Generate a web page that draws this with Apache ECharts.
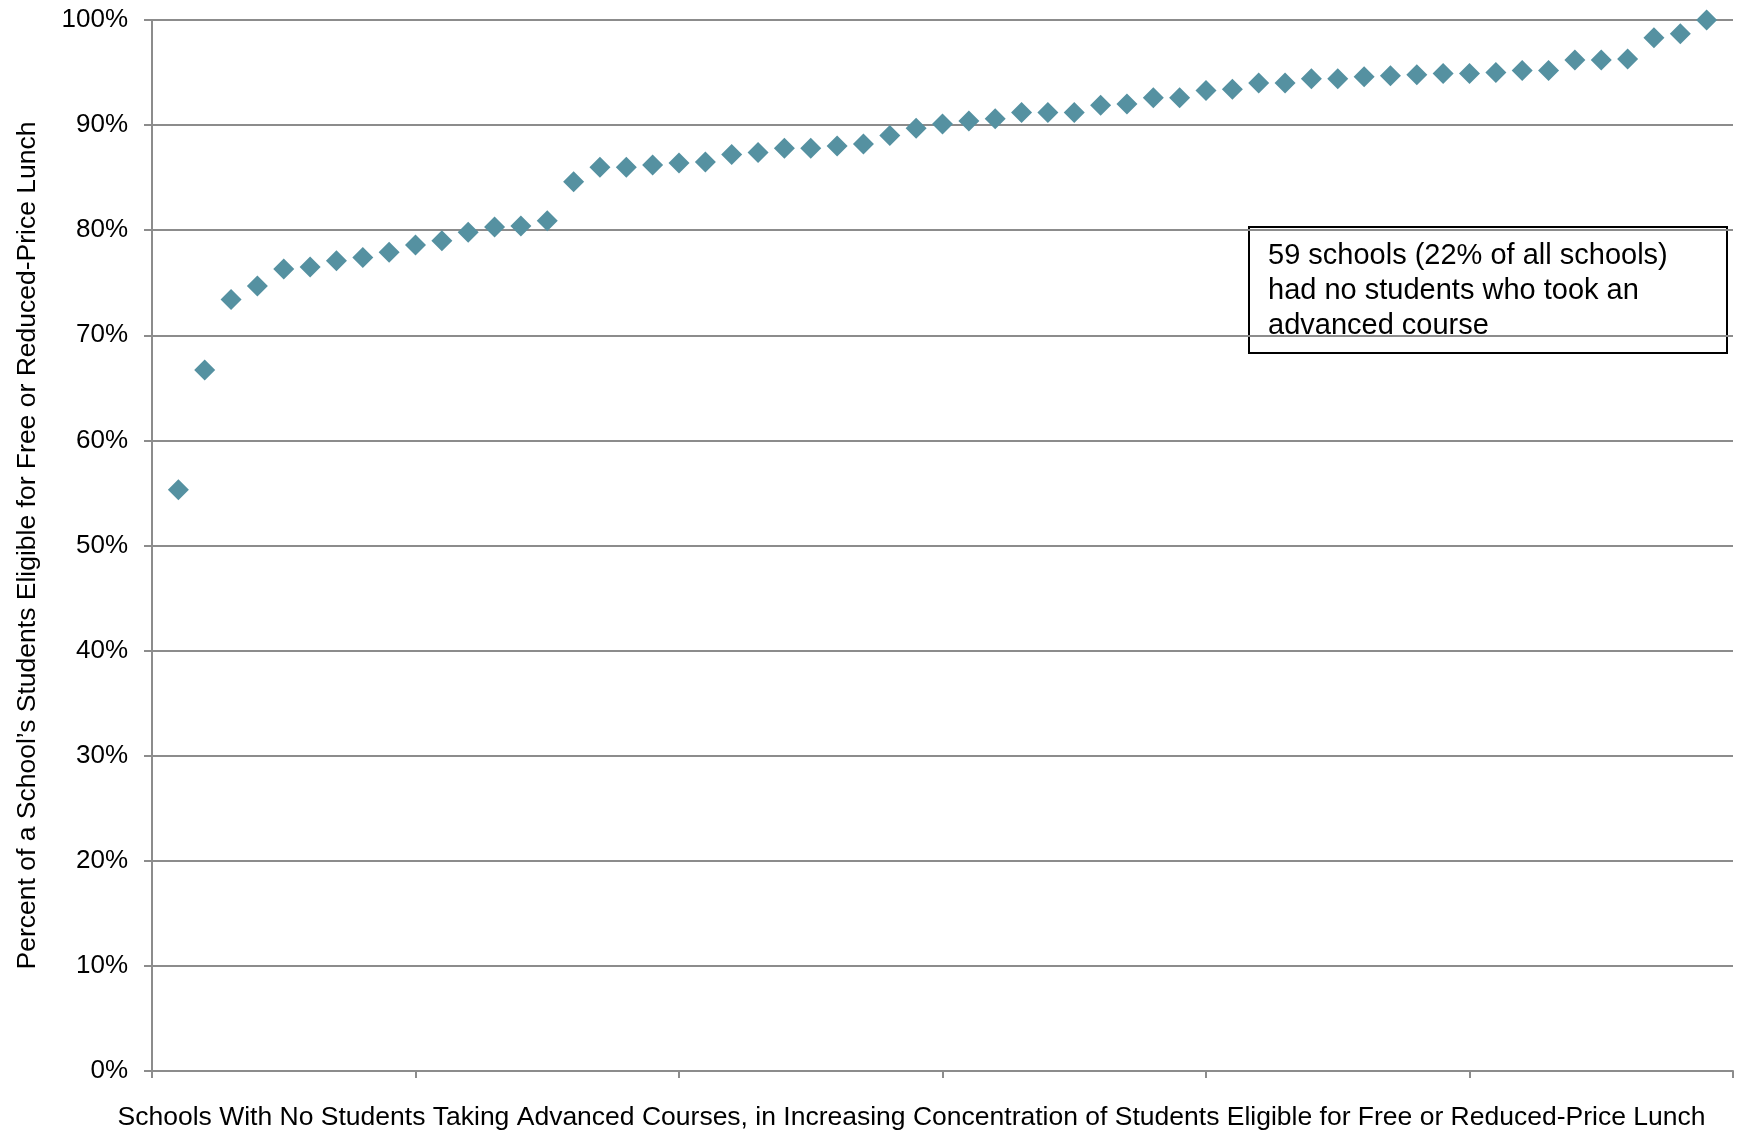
<!DOCTYPE html>
<html>
<head>
<meta charset="utf-8">
<script src="https://cdn.jsdelivr.net/npm/echarts@6/dist/echarts.min.js"></script>
<style>
html,body{margin:0;padding:0;background:#fff;}
#chart{width:1737px;height:1132px;}
</style>
</head>
<body>
<div id="chart"></div>
<script>
// School index (1..59) in increasing FRPL concentration
const schools = [1,2,3,4,5,6,7,8,9,10,11,12,13,14,15,16,17,18,19,20,21,22,23,24,25,26,27,28,29,30,
  31,32,33,34,35,36,37,38,39,40,41,42,43,44,45,46,47,48,49,50,51,52,53,54,55,56,57,58,59];
// Percent of students eligible for free or reduced-price lunch
const frplPercent = [55.3, 66.7, 73.4, 74.7, 76.3, 76.5, 77.1, 77.4, 77.9, 78.6,
  79.0, 79.8, 80.3, 80.4, 80.9, 84.6, 86.0, 86.0, 86.2, 86.4,
  86.5, 87.2, 87.4, 87.8, 87.8, 88.0, 88.2, 89.0, 89.7, 90.1,
  90.4, 90.6, 91.2, 91.2, 91.2, 91.9, 92.0, 92.6, 92.6, 93.3,
  93.4, 94.0, 94.0, 94.4, 94.4, 94.6, 94.7, 94.8, 94.9, 94.9,
  95.0, 95.2, 95.2, 96.2, 96.2, 96.3, 98.3, 98.7, 100.0];
const yTicks = [0,10,20,30,40,50,60,70,80,90,100];
const xTitle = 'Schools With No Students Taking Advanced Courses, in Increasing Concentration of Students Eligible for Free or Reduced-Price Lunch';
const yTitle = 'Percent of a School\u2019s Students Eligible for Free or Reduced-Price Lunch';
const noteLines = ['59 schools (22% of all schools)', 'had no students who took an', 'advanced course'];

const FONT = '"Liberation Sans", Arial, sans-serif';
const chart = echarts.init(document.getElementById('chart'));
chart.setOption({
  animation: false,
  backgroundColor: '#ffffff',
  grid: {left: 152, right: 4, top: 20, bottom: 61, containLabel: false, outerBoundsMode: 'none'},
  xAxis: {
    type: 'value', min: 0, max: 60, interval: 10,
    name: xTitle, nameLocation: 'middle', nameGap: 33,
    nameTextStyle: {fontFamily: FONT, fontSize: 26.5, color: '#000', padding: [0, 62, 0, 0]},
    axisLine: {show: true, lineStyle: {color: '#8c8c8c', width: 2}},
    axisTick: {show: true, length: 7, lineStyle: {color: '#8c8c8c', width: 2}},
    axisLabel: {show: false},
    splitLine: {show: false}
  },
  yAxis: {
    type: 'value', min: yTicks[0], max: yTicks[yTicks.length-1], interval: 10,
    name: yTitle, nameLocation: 'middle', nameGap: 111, nameRotate: 90,
    nameTextStyle: {fontFamily: FONT, fontSize: 26.5, color: '#000'},
    axisLine: {show: true, lineStyle: {color: '#8c8c8c', width: 2}},
    axisTick: {show: true, length: 8, lineStyle: {color: '#8c8c8c', width: 2}},
    axisLabel: {fontFamily: FONT, fontSize: 26, color: '#000', margin: 24, formatter: '{value}%'},
    splitLine: {show: true, lineStyle: {color: '#8c8c8c', width: 2}}
  },
  series: [{
    type: 'scatter',
    symbol: 'diamond',
    symbolSize: 21,
    clip: false,
    itemStyle: {color: '#5591a1', opacity: 1},
    data: schools.map((s, i) => [s, frplPercent[i]])
  }],
  graphic: [{
    type: 'group', left: 1248, top: 226,
    children: [
      {type: 'rect', shape: {x: 0, y: 0, width: 478, height: 126},
       style: {fill: '#fff', stroke: '#000', lineWidth: 2}},
      {type: 'text', x: 19, y: 11,
       style: {text: noteLines.join('\n'), fontFamily: FONT, fontSize: 29, lineHeight: 35, fill: '#000'}}
    ]
  }]
});
</script>
</body>
</html>
